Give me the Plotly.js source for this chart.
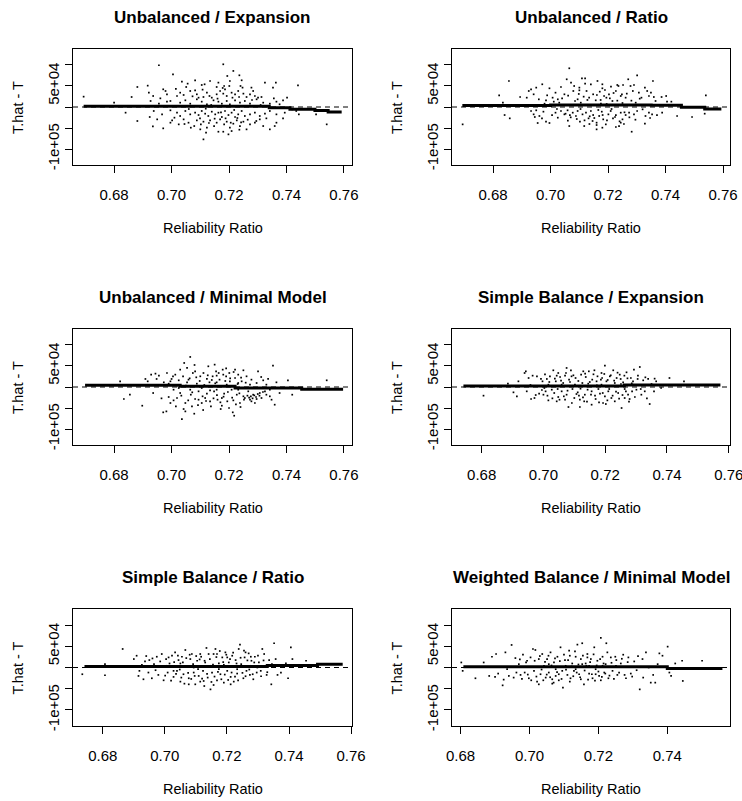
<!DOCTYPE html>
<html><head><meta charset="utf-8">
<script src="https://cdn.plot.ly/plotly-3.0.1.min.js"></script>
<style>html,body{margin:0;padding:0;background:#fff}#chart{width:742px;height:801px}</style>
</head><body><div id="chart"></div>
<script>
const titles = ["Unbalanced / Expansion","Unbalanced / Ratio","Unbalanced / Minimal Model","Simple Balance / Expansion","Simple Balance / Ratio","Weighted Balance / Minimal Model"];
const xTitle = "Reliability Ratio";
const yTitle = "T.hat - T";
const xTickVals = [0.68,0.70,0.72,0.74,0.76];
const xTickText = ["0.68","0.70","0.72","0.74","0.76"];
const yTickVals = [-100000,-50000,0,50000,100000];
const yTickText = ["-1e+05","","","5e+04",""];
const xRanges = [[0.6657,0.7628],[0.6657,0.7624],[0.6657,0.7628],[0.6704,0.7604],[0.6704,0.7603],[0.6775,0.7582]];
const yRange = [-138000,138000];

const pts1 = [[0.6956,99300],[0.7180,101600],[0.7215,85800],[0.7194,73800],[0.7236,75400],[0.7005,77800],
[0.7036,60300],[0.7056,55600],[0.7051,47600],[0.7082,63500],[0.7105,52400],[0.7115,54000],[0.7134,61900],[0.7163,58000],[0.7157,47600],[0.7183,50000],[0.7186,42100],[0.7201,50000],[0.7203,61900],[0.7244,63500],[0.7240,50000],[0.7247,46100],[0.7278,46100],[0.7284,38100],[0.7325,58000],[0.7353,46100],[0.7363,58000],[0.6881,47600],[0.6917,50800],[0.7440,51600],
[0.6921,34100],[0.6936,26200],[0.6971,42100],[0.6979,38100],[0.6984,30200],[0.7019,26200],[0.7030,34100],[0.7042,28600],[0.7065,38100],[0.7082,39700],[0.7088,30200],[0.7094,22200],[0.7111,23800],[0.7123,34100],[0.7132,26200],[0.7140,22200],[0.7157,30200],[0.7169,38100],[0.7180,31800],[0.7192,26200],[0.7209,34100],[0.7221,30200],[0.7232,38100],[0.7250,31800],[0.7261,23800],[0.7273,30200],[0.7290,26200],[0.7301,22200],[0.7313,23800],[0.7356,20600],[0.7388,15900],[0.7402,22200],[0.6861,23800],[0.6961,20600],[0.6996,14300],
[0.6694,24600],[0.6800,10300],[0.6927,14300],[0.6956,7900],[0.6984,12700],[0.7030,10300],[0.7048,15900],[0.7065,7900],[0.7088,18300],[0.7105,12700],[0.7123,6400],[0.7146,15900],[0.7163,12700],[0.7175,7900],[0.7192,14300],[0.7203,6400],[0.7221,15900],[0.7238,10300],[0.7255,14300],[0.7273,7900],[0.7296,18300],[0.7319,10300],[0.7342,7900],[0.7365,12700],[0.7376,6400],
[0.6840,-13500],[0.6938,-9500],[0.6967,-17500],[0.6996,-7900],[0.7019,-13500],[0.7030,-21400],[0.7048,-9500],[0.7065,-17500],[0.7082,-13500],[0.7094,-19100],[0.7105,-9500],[0.7117,-15900],[0.7128,-21400],[0.7140,-11100],[0.7152,-17500],[0.7163,-13500],[0.7175,-23800],[0.7186,-9500],[0.7198,-19100],[0.7209,-13500],[0.7221,-23800],[0.7232,-17500],[0.7244,-9500],[0.7255,-21400],[0.7273,-17500],[0.7290,-13500],[0.7307,-21400],[0.7325,-15900],[0.7342,-9500],[0.7365,-17500],[0.7394,-13500],[0.7420,-5600],[0.7434,-9500],[0.7443,-17500],[0.7503,-17500],
[0.6881,-33300],[0.6924,-23800],[0.6935,-46100],[0.6950,-29400],[0.6971,-50800],[0.6996,-37300],[0.7002,-31800],[0.7025,-41300],[0.7042,-29400],[0.7059,-37300],[0.7067,-49200],[0.7079,-45300],[0.7088,-31800],[0.7102,-41300],[0.7111,-34900],[0.7123,-49200],[0.7134,-31800],[0.7148,-45300],[0.7157,-37300],[0.7169,-29400],[0.7183,-41300],[0.7192,-34900],[0.7203,-49200],[0.7215,-39700],[0.7227,-31800],[0.7238,-45300],[0.7250,-34900],[0.7261,-53200],[0.7273,-41300],[0.7290,-37300],[0.7307,-29400],[0.7319,-45300],[0.7342,-53200],[0.7359,-45300],[0.7365,-37300],[0.7388,-27000],[0.7540,-41300],
[0.7100,-53200],[0.7163,-58800],[0.7180,-58800],[0.7209,-57200],[0.7236,-54000],[0.7120,-61100],[0.7111,-77000],[0.7198,-65100],
[0.7060,-4800],[0.7073,25400],[0.7099,-27000],[0.7108,41300],[0.7119,-4000],[0.7130,-38100],[0.7138,4800],[0.7150,-27800],[0.7160,19900],[0.7172,-12700],[0.7178,45300],[0.7188,-27000],[0.7196,2400],[0.7206,-37300],[0.7212,22200],[0.7218,-7100],[0.7229,-26200],[0.7235,23800],[0.7242,-36500],[0.7258,2400],[0.7265,-30200],[0.7280,16700],[0.7295,-33300],[0.7310,4800],[0.7330,-27000],[0.7045,-40500],[0.7010,-25400],[0.7015,42900]];

const pts2 = [[0.6694,-41300],[0.6821,27800],[0.6855,61900],[0.6834,10300],[0.6840,-19100],[0.6858,-27000],[0.6894,23800],[0.6917,22200],[0.6924,38100],[0.6932,42100],[0.6941,30200],[0.6950,46100],[0.6959,18300],[0.6971,54000],[0.6984,15900],[0.6996,44500],[0.7007,22200],[0.7017,34100],[0.7025,18300],[0.7036,47600],[0.7048,30200],[0.7056,65900],[0.7065,92100],[0.7071,58000],[0.7079,38100],[0.7082,50000],[0.7094,18300],[0.7100,46100],[0.7109,68300],[0.7120,68300],[0.7125,38100],[0.7134,22200],[0.7140,54000],[0.7148,30200],[0.7157,15900],[0.7163,61900],[0.7171,36500],[0.7180,54000],[0.7186,26200],[0.7194,22200],[0.7203,30200],[0.7215,14300],[0.7227,38100],[0.7236,50000],[0.7244,26200],[0.7252,52400],[0.7261,22200],[0.7270,65900],[0.7278,50000],[0.7286,38100],[0.7290,52400],[0.7301,75400],[0.7307,34100],[0.7316,22200],[0.7328,46100],[0.7342,26200],[0.7349,34100],[0.7356,61900],[0.7359,23800],[0.7365,14300],[0.7386,23800],[0.7402,26200],[0.7405,12700],[0.7420,12700],[0.7540,27800],[0.6979,7900],[0.7030,10300],[0.7105,10300],[0.7175,7900],[0.7250,9500],[0.7296,10300],
[0.6932,-9500],[0.6941,-17500],[0.6950,-7900],[0.6961,-21400],[0.6975,-11100],[0.6984,-34900],[0.6996,-38100],[0.7005,-19100],[0.7017,-13500],[0.7025,-25400],[0.7036,-9500],[0.7048,-17500],[0.7059,-7900],[0.7067,-19100],[0.7077,-13500],[0.7088,-21400],[0.7094,-9500],[0.7102,-34900],[0.7111,-17500],[0.7123,-13500],[0.7132,-27000],[0.7140,-9500],[0.7148,-19100],[0.7160,-37300],[0.7160,-53200],[0.7169,-21400],[0.7178,-11100],[0.7183,-29400],[0.7192,-41300],[0.7201,-17500],[0.7209,-9500],[0.7217,-27000],[0.7227,-19100],[0.7238,-45300],[0.7244,-13500],[0.7250,-29400],[0.7261,-19100],[0.7273,-13500],[0.7282,-58800],[0.7290,-17500],[0.7301,-9500],[0.7328,-39700],[0.7330,-21400],[0.7342,-13500],[0.7353,-17500],[0.7370,-19100],[0.7388,-13500],[0.7440,-21400],[0.7492,-23800],[0.7536,-15900],[0.7117,-45300],[0.7146,-33300],[0.7065,-45300],[0.7180,-49200],[0.7227,-47600],[0.7244,-37300],
[0.7011,12700],[0.7022,-4800],[0.7040,20600],[0.7052,-15900],[0.7061,27000],[0.7070,-24600],[0.7085,14300],[0.7091,-28600],[0.7098,31000],[0.7104,-4800],[0.7115,24600],[0.7118,-31800],[0.7128,16700],[0.7136,-22200],[0.7144,4800],[0.7152,-26200],[0.7161,28600],[0.7166,-7100],[0.7174,16700],[0.7181,-19100],[0.7189,40500],[0.7196,-31800],[0.7206,20600],[0.7212,-4800],[0.7219,33300],[0.7224,-23800],[0.7232,15100],[0.7240,-34100],[0.7248,30200],[0.7257,-12700],[0.7265,31800],[0.7274,-24600],[0.7281,15100],[0.7295,-30200],[0.7310,19900],[0.7320,-5600],[0.7336,38100],[0.7346,-26200],[0.6970,-27000],[0.6988,27800],[0.6955,-38100],[0.6945,-23800],[0.7180,44500],[0.7195,7100],[0.7210,48400],[0.7160,-42900],[0.7135,-40500],[0.7255,-40500],[0.7100,39700],[0.7060,-32500],[0.7232,52400],[0.7120,55600]];

const pts3 = [[0.6821,13500],[0.6834,-28600],[0.6855,-18300],[0.6898,-44500],[0.6909,19100],[0.6917,13500],[0.6929,29400],[0.6936,-14300],[0.6944,31800],[0.6956,27000],[0.6971,-60300],[0.6973,11100],[0.6982,-58000],[0.6984,33300],[0.6990,-23800],[0.6996,-38100],[0.7005,25400],[0.7007,-6400],[0.7013,29400],[0.7019,-26200],[0.7025,15900],[0.7030,-14300],[0.7036,-76200],[0.7040,25400],[0.7044,57200],[0.7048,-38100],[0.7054,45300],[0.7059,17500],[0.7065,71500],[0.7067,-18300],[0.7074,33300],[0.7079,-63500],[0.7082,-28600],[0.7088,7900],[0.7094,-10300],[0.7100,25400],[0.7105,-38100],[0.7111,33300],[0.7117,-26200],[0.7123,-15900],[0.7128,49200],[0.7132,11100],[0.7137,-46100],[0.7143,25400],[0.7148,-10300],[0.7155,37300],[0.7160,-30200],[0.7167,17500],[0.7171,-52400],[0.7178,41300],[0.7183,-15900],[0.7190,25400],[0.7194,-34100],[0.7201,33300],[0.7209,-6400],[0.7213,-60300],[0.7218,-68300],[0.7221,21400],[0.7227,-18300],[0.7232,29400],[0.7238,-38100],[0.7244,13500],[0.7250,39700],[0.7255,-26200],[0.7261,25400],[0.7267,-10300],[0.7273,-30200],[0.7278,17500],[0.7284,-18300],[0.7290,-38100],[0.7296,9500],[0.7301,37300],[0.7307,-14300],[0.7313,-26200],[0.7319,15900],[0.7325,-10300],[0.7330,5600],[0.7342,-22200],[0.7353,50800],[0.7359,-42100],[0.7365,11100],[0.7376,-14300],[0.7405,15900],[0.7420,-18300],[0.7540,15900],[0.6996,13500],[0.7054,11100],[0.7123,19100],[0.7157,11100],[0.7192,5600],[0.7232,9500],[0.7273,5600],[0.7203,13500],[0.7094,-30200],[0.7134,-34100],[0.7175,-26200],[0.7215,-31800],[0.7250,-22200],[0.7278,-34100],[0.7296,-28600],[0.7105,-2400],[0.7157,-6400],[0.7232,-6400],[0.7065,-6400],[0.7025,-2400],[0.7330,-18300],[0.7342,-6400],[0.7082,37300],[0.7180,29400],[0.7221,41300],[0.7030,41300],[0.7157,27000],[0.7071,-46100],[0.7175,-44500],[0.7007,-31800],[0.7048,-58000],
[0.7034,-20600],[0.7050,3200],[0.7058,-31800],[0.7063,20600],[0.7072,-12700],[0.7086,23000],[0.7092,-42900],[0.7098,14300],[0.7108,-22200],[0.7114,4800],[0.7120,-33300],[0.7126,27800],[0.7134,-7900],[0.7140,16700],[0.7146,-27000],[0.7152,8700],[0.7158,-19100],[0.7164,33300],[0.7170,-36500],[0.7176,2400],[0.7181,-23000],[0.7187,14300],[0.7196,-11900],[0.7204,20600],[0.7211,-25400],[0.7216,35700],[0.7224,-41300],[0.7230,7100],[0.7236,-15100],[0.7242,22200],[0.7252,-30200],[0.7258,10300],[0.7264,-20600],[0.7270,-25400],[0.7276,-22200],[0.7282,-27000],[0.7288,-19900],[0.7294,-23800],[0.7300,-16700],[0.7306,-20600],[0.7312,23800],[0.7318,-11900],[0.7336,19100],[0.7348,-30200],[0.7000,19100],[0.6990,7900],[0.6965,-27000],[0.6948,19100],[0.7015,-46100],[0.7042,-52400],[0.7110,-54800],[0.7200,-50000],[0.7240,-47600],[0.7080,52400],[0.7150,53200],[0.7190,44500]];

const pts4 = [[0.6806,-20600],[0.6885,7900],[0.6903,-12700],[0.6914,-22200],[0.6919,13500],[0.6939,33300],[0.6943,37300],[0.6946,-10300],[0.6952,21400],[0.6960,-28600],[0.6965,27000],[0.6971,-26200],[0.6979,25400],[0.6986,-15900],[0.6992,19100],[0.6997,13500],[0.7003,-2400],[0.7007,-10300],[0.7011,19100],[0.7016,-31800],[0.7021,25400],[0.7027,-6400],[0.7032,39700],[0.7035,-14300],[0.7040,13500],[0.7043,27000],[0.7048,-23800],[0.7054,23800],[0.7059,-10300],[0.7064,9500],[0.7070,27000],[0.7075,-18300],[0.7081,-47600],[0.7083,17500],[0.7089,39700],[0.7094,-4800],[0.7100,-26200],[0.7104,21400],[0.7111,-12700],[0.7118,-47600],[0.7122,29400],[0.7126,9500],[0.7132,-34100],[0.7137,23800],[0.7143,-6400],[0.7147,37300],[0.7154,-18300],[0.7158,17500],[0.7165,39700],[0.7169,-28600],[0.7175,25400],[0.7183,-15900],[0.7188,33300],[0.7193,-38100],[0.7199,50800],[0.7204,13500],[0.7210,-10300],[0.7215,25400],[0.7220,-26200],[0.7226,39700],[0.7231,-34100],[0.7237,21400],[0.7242,-14300],[0.7247,29400],[0.7253,-50000],[0.7258,11100],[0.7263,-4800],[0.7269,34900],[0.7274,-18300],[0.7283,21400],[0.7287,-10300],[0.7293,41300],[0.7301,-6400],[0.7306,27000],[0.7312,47600],[0.7317,-18300],[0.7328,-10300],[0.7339,19100],[0.7344,-40500],[0.7358,-10300],[0.7365,13500],[0.7381,-2400],[0.7408,21400],[0.7455,13500],[0.7102,5600],[0.7145,7900],[0.7188,5600],[0.7231,9500],[0.7059,5600],[0.7016,5600],[0.7178,-4800],[0.7134,-18300],[0.7070,-30200],[0.7156,-42100],[0.7207,-31800],[0.7279,-28600],[0.7043,-34100],[0.7115,-20600],[0.7290,13500],[0.7323,15900],[0.7172,13500],[0.7129,37300],[0.7048,33300],[0.7075,45300],[0.7091,25400],[0.7140,1600],[0.7190,21400],[0.7250,19100],[0.7118,-30200],[0.7199,-22200],[0.7263,-26200],[0.7000,-18300],
[0.6958,4800],[0.6975,-19100],[0.6995,-7100],[0.7005,30200],[0.7013,-20600],[0.7019,11900],[0.7029,-27000],[0.7037,19900],[0.7046,-4800],[0.7052,-30200],[0.7057,15100],[0.7066,-22200],[0.7073,33300],[0.7078,-8700],[0.7086,11900],[0.7092,-38100],[0.7097,27800],[0.7107,-16700],[0.7113,14300],[0.7120,-4000],[0.7128,-24600],[0.7135,31800],[0.7141,-34900],[0.7150,11900],[0.7156,-10300],[0.7162,30200],[0.7167,-20600],[0.7173,4000],[0.7180,-36500],[0.7186,17500],[0.7192,-14300],[0.7197,31000],[0.7202,-40500],[0.7208,16700],[0.7213,-4800],[0.7218,27800],[0.7224,-20600],[0.7229,15100],[0.7235,-11100],[0.7240,34100],[0.7245,-27800],[0.7251,7100],[0.7256,-19100],[0.7262,27000],[0.7267,-10300],[0.7272,20600],[0.7277,-34900],[0.7286,8700],[0.7296,-23800],[0.7305,19100],[0.7315,-4800],[0.7330,23000],[0.7335,-27000],[0.7350,7100],[0.7360,19900]];

const pts5 = [[0.6734,-15900],[0.6807,7900],[0.6807,-18300],[0.6864,43700],[0.6900,19900],[0.6909,27800],[0.6915,-19900],[0.6926,6400],[0.6931,-27800],[0.6936,14300],[0.6947,-11900],[0.6950,17500],[0.6958,-25400],[0.6965,7900],[0.6974,25400],[0.6979,-17500],[0.6985,14300],[0.6990,31800],[0.6996,-30200],[0.7004,19900],[0.7009,-11900],[0.7015,9500],[0.7023,27800],[0.7028,-22200],[0.7033,35700],[0.7039,-7900],[0.7044,17500],[0.7050,-33300],[0.7055,25400],[0.7060,-15900],[0.7066,41300],[0.7071,4000],[0.7077,-25400],[0.7082,19900],[0.7087,31800],[0.7093,-11900],[0.7098,-39700],[0.7104,15900],[0.7109,-19900],[0.7114,-33300],[0.7117,25400],[0.7123,-7900],[0.7127,-43700],[0.7130,11900],[0.7134,46100],[0.7138,-23800],[0.7145,19900],[0.7147,-51600],[0.7152,-11900],[0.7157,31800],[0.7163,43700],[0.7168,-30200],[0.7174,9500],[0.7179,-15900],[0.7185,23800],[0.7190,-35700],[0.7195,35700],[0.7201,-7900],[0.7206,11900],[0.7212,-22200],[0.7217,27800],[0.7222,-33300],[0.7228,17500],[0.7233,-14300],[0.7238,43700],[0.7242,54000],[0.7246,7900],[0.7253,-25400],[0.7257,23800],[0.7263,-7900],[0.7270,33300],[0.7274,-17500],[0.7279,15900],[0.7285,-27800],[0.7290,25400],[0.7296,-11900],[0.7303,11900],[0.7309,-7900],[0.7314,43700],[0.7320,31800],[0.7328,-17500],[0.7336,17500],[0.7343,-39700],[0.7352,57200],[0.7357,19900],[0.7363,-17500],[0.7374,-11900],[0.7390,9500],[0.7397,-25400],[0.7406,47600],[0.7411,19900],[0.7455,15900],[0.7050,9500],[0.7147,4000],[0.7190,6400],[0.7276,4000],[0.7006,4000],[0.7093,0],[0.7174,-4000],[0.7233,-4000],[0.7125,-31800],[0.7157,-41300],[0.7077,-39700],[0.7028,-7900],[0.7212,-39700],[0.7114,31800],[0.7260,35700],[0.7168,31800],[0.7201,23800],[0.7298,0],
[0.7001,-19100],[0.7012,23800],[0.7020,-31000],[0.7030,12700],[0.7036,-15100],[0.7042,27800],[0.7048,-4800],[0.7053,-23800],[0.7058,11900],[0.7063,-38100],[0.7069,22200],[0.7075,-12700],[0.7080,30200],[0.7085,-27000],[0.7091,7900],[0.7096,-19900],[0.7101,27000],[0.7107,-4000],[0.7112,19100],[0.7120,-26200],[0.7128,15900],[0.7136,-15100],[0.7141,31800],[0.7150,-34100],[0.7155,7100],[0.7160,-21400],[0.7166,24600],[0.7171,-10300],[0.7177,38900],[0.7182,-27800],[0.7188,12700],[0.7193,-16700],[0.7198,30200],[0.7204,-29400],[0.7210,19900],[0.7215,-11900],[0.7220,34900],[0.7226,-21400],[0.7231,9500],[0.7236,-30200],[0.7244,23000],[0.7250,-12700],[0.7255,39700],[0.7260,-20600],[0.7266,16700],[0.7272,-4800],[0.7277,25400],[0.7283,-15900],[0.7288,11900],[0.7300,27800],[0.7310,-20600],[0.7318,16700],[0.7330,-11100],[0.7345,7900],[0.6960,21400],[0.6970,-6400],[0.6940,27000],[0.6918,-7900]];

const pts6 = [[0.6802,11900],[0.6806,-7900],[0.6843,-25400],[0.6867,11900],[0.6883,-19900],[0.6891,25400],[0.6903,31800],[0.6909,-14300],[0.6922,-42100],[0.6935,-4000],[0.6940,-19900],[0.6948,53200],[0.6954,-23800],[0.6959,22200],[0.6969,7900],[0.6974,-17500],[0.6981,30200],[0.6986,-11900],[0.6993,15900],[0.6998,-25400],[0.7003,23800],[0.7010,43700],[0.7013,-7900],[0.7017,41300],[0.7022,-33300],[0.7027,19900],[0.7032,-15900],[0.7037,31800],[0.7042,4000],[0.7047,-23800],[0.7051,19900],[0.7056,-11900],[0.7061,35700],[0.7066,-38100],[0.7071,11900],[0.7076,-19900],[0.7081,25400],[0.7085,-30200],[0.7090,47600],[0.7095,-7900],[0.7097,-47600],[0.7103,17500],[0.7110,-17500],[0.7115,39700],[0.7119,-25400],[0.7124,9500],[0.7129,-7900],[0.7134,25400],[0.7139,54000],[0.7144,-15900],[0.7149,19900],[0.7153,57200],[0.7158,-39700],[0.7163,9500],[0.7168,31800],[0.7173,-14300],[0.7178,19900],[0.7183,-25400],[0.7188,47600],[0.7192,-4000],[0.7197,15900],[0.7202,-19900],[0.7207,69900],[0.7212,25400],[0.7217,-11900],[0.7221,7900],[0.7223,57200],[0.7229,-25400],[0.7236,23800],[0.7241,-7900],[0.7249,25400],[0.7255,-17500],[0.7265,9500],[0.7272,30200],[0.7280,-25400],[0.7287,23800],[0.7294,-14300],[0.7304,14300],[0.7311,-6400],[0.7320,-51600],[0.7328,19900],[0.7338,35700],[0.7346,0],[0.7352,-35700],[0.7359,-17500],[0.7365,-35700],[0.7372,7900],[0.7377,33300],[0.7386,27800],[0.7401,49200],[0.7406,-11900],[0.7411,-19900],[0.7423,9500],[0.7445,-31700],[0.7443,15900],[0.7501,15900],[0.7056,7900],[0.7105,4000],[0.7153,7900],[0.7173,4000],[0.7212,4000],[0.7134,-4000],[0.7192,-15900],[0.7076,-4000],[0.7251,4000],[0.7085,-15900],[0.7149,-27800],[0.7207,-30200],[0.7027,-39700],[0.7066,-27800],[0.7117,27800],[0.7168,23800],
[0.6962,-11900],[0.6972,19100],[0.6978,-27000],[0.6990,11900],[0.6995,-16700],[0.7005,-30200],[0.7015,15900],[0.7020,-21400],[0.7030,27000],[0.7035,-4800],[0.7040,-30200],[0.7045,13500],[0.7050,-16700],[0.7055,27800],[0.7060,-23000],[0.7064,4800],[0.7070,-35700],[0.7074,21400],[0.7080,-11100],[0.7088,15100],[0.7093,-27000],[0.7100,30200],[0.7106,-4800],[0.7112,17500],[0.7117,-33300],[0.7122,2400],[0.7127,-20600],[0.7132,38100],[0.7137,-11900],[0.7142,7100],[0.7147,-23000],[0.7155,27800],[0.7160,-7100],[0.7165,4000],[0.7170,-28600],[0.7176,12700],[0.7181,-15900],[0.7186,31000],[0.7190,-31000],[0.7195,4800],[0.7200,-9500],[0.7205,19900],[0.7210,-22200],[0.7215,9500],[0.7220,-14300],[0.7226,35700],[0.7232,-19100],[0.7238,11100],[0.7245,-27000],[0.7252,17500],[0.7260,-11900],[0.7268,20600],[0.7276,-17500],[0.7285,12700],[0.7298,-21400],[0.7315,27000],[0.7330,-23800],[0.6930,35700],[0.6925,-28600],[0.6900,-22200]];

const smoothX = [[0.6694,0.7340,0.7412,0.7499,0.7545,0.7592],[0.6693,0.7000,0.7350,0.7455,0.7536,0.7594],[0.6699,0.7030,0.7221,0.7453,0.7597],[0.6741,0.7262,0.7573],[0.6741,0.7330,0.7492,0.7573],[0.6808,0.7400,0.7560]];
const smoothY = [[2000,-2000,-5500,-8600,-11700,-11700],[3500,5000,4000,-800,-4500,-4500],[4000,1500,-2300,-5500,-5500],[2300,4600,4600],[2400,4800,7900,7900],[1600,-2400,-2400]];

const allPts = [pts1,pts2,pts3,pts4,pts5,pts6];
const W = 742, H = 801;
const colBox = [[73,352],[452,730]];
const rowBox = [[49,165],[329,445],[609,726]];
const FONT = "Liberation Sans, Arial, sans-serif";

const data = [];
const layout = {width:W,height:H,margin:{l:0,r:0,t:0,b:0},paper_bgcolor:"#fff",plot_bgcolor:"#fff",showlegend:false,annotations:[],shapes:[],font:{family:FONT,color:"#000",size:15}};

for (let i=0;i<6;i++){
  const c = i%2, r = Math.floor(i/2);
  const sfx = i===0 ? "" : String(i+1);
  const xa = "x"+sfx, ya = "y"+sfx;
  const xd = [colBox[c][0]/W, colBox[c][1]/W];
  const yd = [1-rowBox[r][1]/H, 1-rowBox[r][0]/H];
  const tv = xTickVals.filter(v => v <= xRanges[i][1]+1e-9);
  layout["xaxis"+sfx] = {domain:xd, range:xRanges[i], anchor:ya, showgrid:false, zeroline:false, showline:true, mirror:true, linecolor:"#000", linewidth:1, ticks:"outside", ticklen:7, tickwidth:1, tickcolor:"#000", tickvals:tv, ticktext:xTickText.slice(0,tv.length), ticklabelstandoff:9, ticklabeloverflow:"allow", tickfont:{family:FONT,size:15,color:"#000"}, fixedrange:true};
  layout["yaxis"+sfx] = {domain:yd, range:yRange, anchor:xa, showgrid:false, zeroline:false, showline:true, mirror:true, linecolor:"#000", linewidth:1, ticks:"outside", ticklen:7, tickwidth:1, tickcolor:"#000", tickvals:yTickVals, ticktext:yTickText, tickangle:-90, tickfont:{family:FONT,size:15,color:"#000"}, fixedrange:true};
  const p = allPts[i];
  data.push({type:"scatter", mode:"markers", x:p.map(d=>d[0]), y:p.map(d=>d[1]), xaxis:xa, yaxis:ya, marker:{symbol:"square", size:1.7, color:"#000", line:{width:0}}, hoverinfo:"skip"});
  data.push({type:"scatter", mode:"lines", x:smoothX[i], y:smoothY[i], xaxis:xa, yaxis:ya, line:{color:"#000", width:3, shape:"hv"}, hoverinfo:"skip"});
  layout.shapes.push({type:"line", xref:xa+" domain", yref:ya, x0:0, x1:1, y0:0, y1:0, line:{color:"#000", width:1, dash:"5px,4px"}});
  const cx = (xd[0]+xd[1])/2;
  layout.annotations.push({text:"<b>"+titles[i]+"</b>", xref:"paper", yref:"paper", x:cx, y:yd[1]+32/H, xanchor:"center", yanchor:"middle", showarrow:false, font:{family:FONT,size:17,color:"#000"}});
  layout.annotations.push({text:xTitle, xref:"paper", yref:"paper", x:cx, y:yd[0]-63/H, xanchor:"center", yanchor:"middle", showarrow:false, font:{family:FONT,size:14.5,color:"#000"}});
  layout.annotations.push({text:yTitle, xref:"paper", yref:"paper", x:xd[0]-55/W, y:(yd[0]+yd[1])/2, xanchor:"center", yanchor:"middle", textangle:-90, showarrow:false, font:{family:FONT,size:14.5,color:"#000"}});
}
Plotly.newPlot("chart", data, layout, {staticPlot:true, displayModeBar:false});
</script></body></html>
